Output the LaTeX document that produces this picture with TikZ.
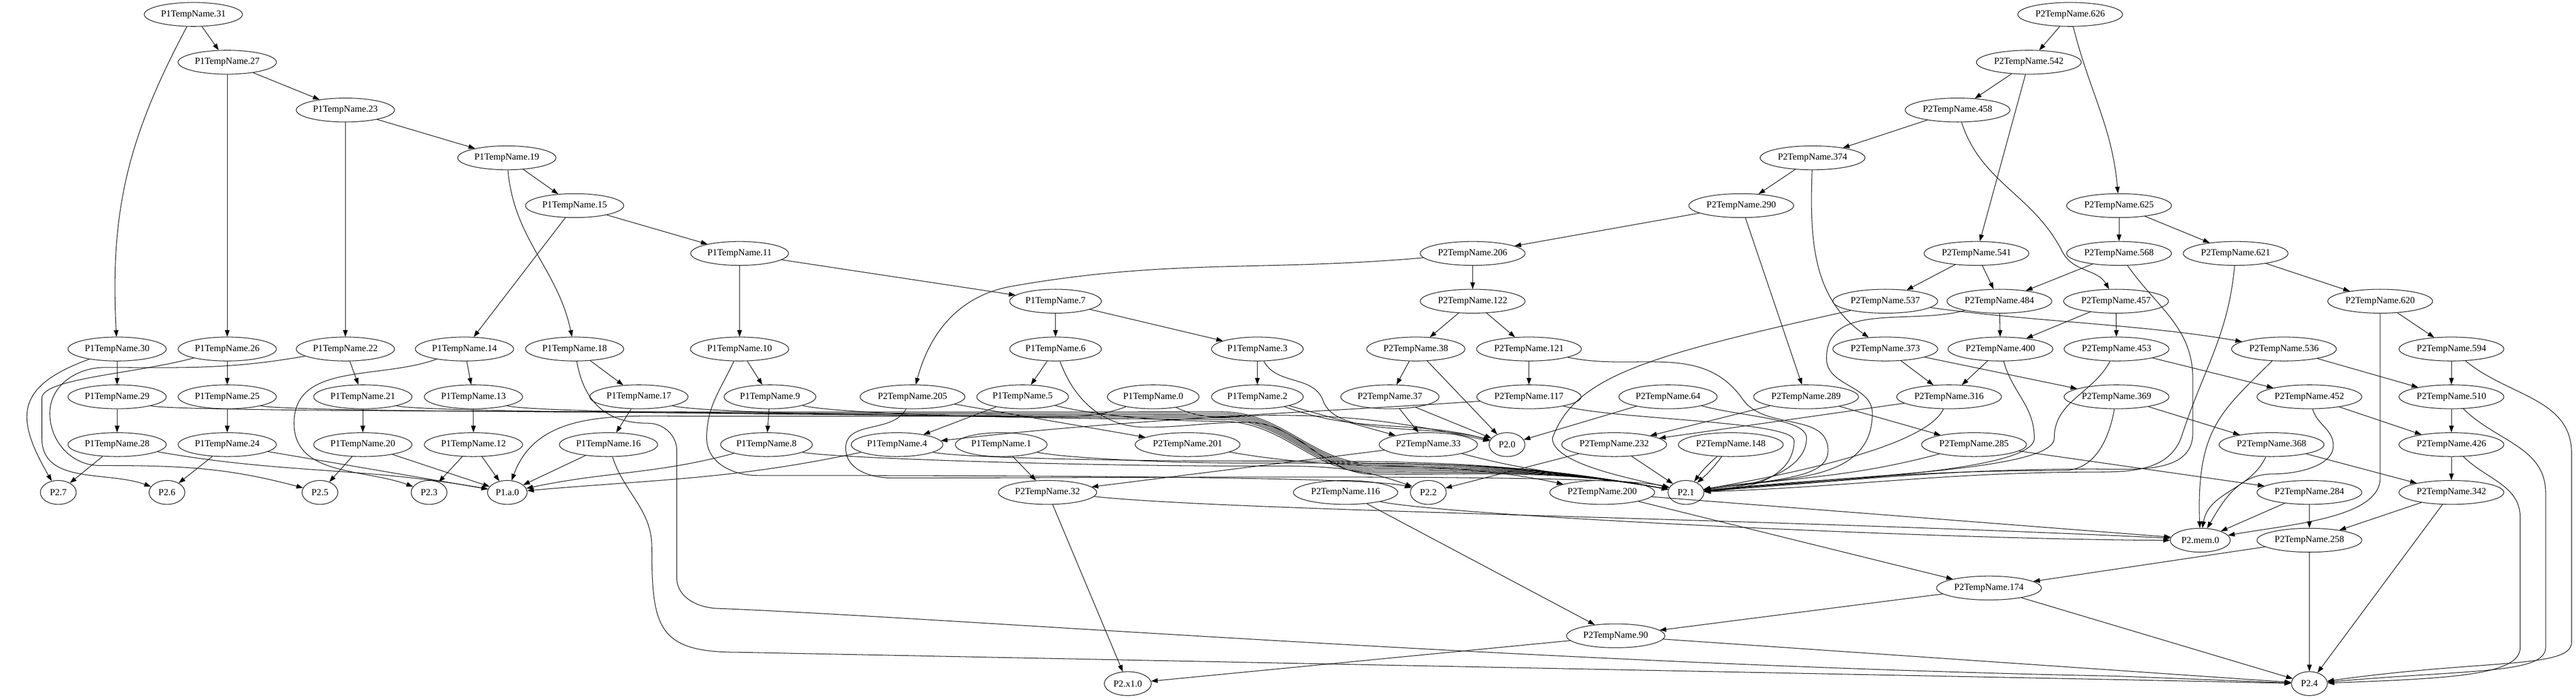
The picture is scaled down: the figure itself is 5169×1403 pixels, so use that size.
\documentclass[tikz,border=0pt]{standalone}
\usepackage{fontspec}
\setmainfont{Liberation Serif}
\usetikzlibrary{shapes.geometric,arrows.meta}

\begin{document}
\begin{tikzpicture}
 [x=0.75pt,y=-0.75pt,
% Node styles
    temp/.style={ellipse,draw,line width=0.8pt,inner xsep=3.6pt,inner ysep=0pt,
        minimum height=36pt,minimum width=54pt,font=\fontsize{14}{16}\selectfont},
    sig/.style={temp},
% Edge style
    wire/.style={draw,line width=0.8pt,-{Triangle[length=10pt,width=7pt]}}
    ]
 \useasboundingbox (0,0) rectangle (5169,1403);
%% Nodes, row by row
 \node (p1n31) [temp] at (388,29) {P1TempName.31};
 \node (p2n626) [temp] at (4154,29) {P2TempName.626};
 \node (p1n27) [temp] at (456,125) {P1TempName.27};
 \node (p2n542) [temp] at (4071,125) {P2TempName.542};
 \node (p1n23) [temp] at (693,221) {P1TempName.23};
 \node (p2n458) [temp] at (3928,221) {P2TempName.458};
 \node (p1n19) [temp] at (1017,317) {P1TempName.19};
 \node (p2n374) [temp] at (3637,317) {P2TempName.374};
 \node (p1n15) [temp] at (1153,413) {P1TempName.15};
 \node (p2n290) [temp] at (3494,413) {P2TempName.290};
 \node (p2n625) [temp] at (4252,413) {P2TempName.625};
 \node (p1n11) [temp] at (1484,509) {P1TempName.11};
 \node (p2n206) [temp] at (2955,509) {P2TempName.206};
 \node (p2n541) [temp] at (3966,509) {P2TempName.541};
 \node (p2n568) [temp] at (4252,509) {P2TempName.568};
 \node (p2n621) [temp] at (4486,509) {P2TempName.621};
 \node (p1n7) [temp] at (2118,605) {P1TempName.7};
 \node (p2n122) [temp] at (2955,605) {P2TempName.122};
 \node (p2n537) [temp] at (3783,605) {P2TempName.537};
 \node (p2n484) [temp] at (4012,605) {P2TempName.484};
 \node (p2n457) [temp] at (4246,605) {P2TempName.457};
 \node (p2n620) [temp] at (4776,605) {P2TempName.620};
 \node (p1n30) [temp] at (235,701) {P1TempName.30};
 \node (p1n26) [temp] at (456,701) {P1TempName.26};
 \node (p1n22) [temp] at (693,701) {P1TempName.22};
 \node (p1n14) [temp] at (932,701) {P1TempName.14};
 \node (p1n18) [temp] at (1153,701) {P1TempName.18};
 \node (p1n10) [temp] at (1484,701) {P1TempName.10};
 \node (p1n6) [temp] at (2118,701) {P1TempName.6};
 \node (p1n3) [temp] at (2523,701) {P1TempName.3};
 \node (p2n38) [temp] at (2841,701) {P2TempName.38};
 \node (p2n121) [temp] at (3068,701) {P2TempName.121};
 \node (p2n373) [temp] at (3783,701) {P2TempName.373};
 \node (p2n400) [temp] at (4014,701) {P2TempName.400};
 \node (p2n453) [temp] at (4247,701) {P2TempName.453};
 \node (p2n536) [temp] at (4583,701) {P2TempName.536};
 \node (p2n594) [temp] at (4919,701) {P2TempName.594};
 \node (p1n29) [temp] at (235,797) {P1TempName.29};
 \node (p1n25) [temp] at (456,797) {P1TempName.25};
 \node (p1n21) [temp] at (728,797) {P1TempName.21};
 \node (p1n13) [temp] at (950,797) {P1TempName.13};
 \node (p1n17) [temp] at (1282,797) {P1TempName.17};
 \node (p1n9) [temp] at (1545,797) {P1TempName.9};
 \node (p2n205) [temp] at (1831,797) {P2TempName.205};
 \node (p1n5) [temp] at (2052,797) {P1TempName.5};
 \node (p1n0) [temp] at (2314,797) {P1TempName.0};
 \node (p1n2) [temp] at (2523,797) {P1TempName.2};
 \node (p2n37) [temp] at (2789,797) {P2TempName.37};
 \node (p2n117) [temp] at (3068,797) {P2TempName.117};
 \node (p2n64) [temp] at (3347,797) {P2TempName.64};
 \node (p2n289) [temp] at (3624,797) {P2TempName.289};
 \node (p2n316) [temp] at (3911,797) {P2TempName.316};
 \node (p2n369) [temp] at (4247,797) {P2TempName.369};
 \node (p2n452) [temp] at (4634,797) {P2TempName.452};
 \node (p2n510) [temp] at (4919,797) {P2TempName.510};
 \node (p1n28) [temp] at (235,893) {P1TempName.28};
 \node (p1n24) [temp] at (456,893) {P1TempName.24};
 \node (p1n20) [temp] at (728,893) {P1TempName.20};
 \node (p1n12) [temp] at (950,893) {P1TempName.12};
 \node (p1n16) [temp] at (1221,893) {P1TempName.16};
 \node (p1n8) [temp] at (1538,893) {P1TempName.8};
 \node (p1n4) [temp] at (1800,893) {P1TempName.4};
 \node (p1n1) [temp] at (2009,893) {P1TempName.1};
 \node (p2n201) [temp] at (2383,893) {P2TempName.201};
 \node (p2n33) [temp] at (2866,893) {P2TempName.33};
 \node (p2n0) [sig] at (3024,893) {P2.0};
 \node (p2n232) [temp] at (3239,893) {P2TempName.232};
 \node (p2n148) [temp] at (3473,893) {P2TempName.148};
 \node (p2n285) [temp] at (3961,893) {P2TempName.285};
 \node (p2n368) [temp] at (4558,893) {P2TempName.368};
 \node (p2n426) [temp] at (4919,893) {P2TempName.426};
 \node (p2n7) [sig] at (117,989) {P2.7};
 \node (p2n6) [sig] at (335,989) {P2.6};
 \node (p2n5) [sig] at (642,989) {P2.5};
 \node (p2n3) [sig] at (861,989) {P2.3};
 \node (p1a0) [sig] at (1018,989) {P1.a.0};
 \node (p2n32) [temp] at (2102,989) {P2TempName.32};
 \node (p2n116) [temp] at (2700,989) {P2TempName.116};
 \node (p2n2) [sig] at (2866,989) {P2.2};
 \node (p2n200) [temp] at (3215,989) {P2TempName.200};
 \node (p2n1) [sig] at (3383,989) {P2.1};
 \node (p2n284) [temp] at (4634,989) {P2TempName.284};
 \node (p2n342) [temp] at (4919,989) {P2TempName.342};
 \node (p2mem0) [sig] at (4415,1085) {P2.mem.0};
 \node (p2n258) [temp] at (4634,1085) {P2TempName.258};
 \node (p2n174) [temp] at (3991,1181) {P2TempName.174};
 \node (p2n90) [temp] at (3242,1277) {P2TempName.90};
 \node (p2x10) [sig] at (2263,1373) {P2.x1.0};
 \node (p2n4) [sig] at (4634,1373) {P2.4};
%% P1 chain
 \draw[wire] (p1n31) -- (p1n27);
 \draw[wire] (p1n31) to[out=-118,in=93,out distance=190pt,in distance=190pt] (p1n30);
 \draw[wire] (p1n27) -- (p1n23);
 \draw[wire] (p1n27) -- (p1n26);
 \draw[wire] (p1n23) -- (p1n19);
 \draw[wire] (p1n23) -- (p1n22);
 \draw[wire] (p1n19) -- (p1n15);
 \draw[wire] (p1n19) to[out=-85,in=102] (p1n18);
 \draw[wire] (p1n15) -- (p1n11);
 \draw[wire] (p1n15) -- (p1n14);
 \draw[wire] (p1n11) -- (p1n7);
 \draw[wire] (p1n11) -- (p1n10);
 \draw[wire] (p1n7) -- (p1n6);
 \draw[wire] (p1n7) -- (p1n3);
 \draw[wire] (p1n30) -- (p1n29);
 \draw[wire] (p1n26) -- (p1n25);
 \draw[wire] (p1n22) -- (p1n21);
 \draw[wire] (p1n14) -- (p1n13);
 \draw[wire] (p1n18) -- (p1n17);
 \draw[wire] (p1n10) -- (p1n9);
 \draw[wire] (p1n6) -- (p1n5);
 \draw[wire] (p1n3) -- (p1n2);
 \draw[wire] (p1n29) -- (p1n28);
 \draw[wire] (p1n25) -- (p1n24);
 \draw[wire] (p1n21) -- (p1n20);
 \draw[wire] (p1n13) -- (p1n12);
 \draw[wire] (p1n17) -- (p1n16);
 \draw[wire] (p1n9) -- (p1n8);
 \draw[wire] (p1n5) -- (p1n4);
 \draw[wire] (p1n2) -- (p2n33);
 \draw[wire] (p1n1) -- (p2n32);
%% P1 loops on the left
 \draw[wire] (p1n30) to[out=200,in=120,out distance=120pt,in distance=110pt] (p2n7);
 \draw[wire] (p1n26) to[out=195,in=90,in distance=30pt] (84,800) -- (84,880) to[out=-90,in=160] (p2n6);
 \draw[wire] (p1n22) to[out=190,in=0] (210,738) to[out=180,in=90] (100,830)
    to[out=-90,in=180] (200,935) to[out=0,in=165] (p2n5);
 \draw[wire] (p1n14) to[out=200,in=90] (590,850) to[out=-90,in=160] (p2n3);
%% P1 into the small nodes
 \draw[wire] (p1n28) -- (p2n7);
 \draw[wire] (p1n24) -- (p2n6);
 \draw[wire] (p1n20) -- (p2n5);
 \draw[wire] (p1n12) -- (p2n3);
 \draw[wire] (p1n28) to[out=-10,in=170] (p1a0);
 \draw[wire] (p1n24) -- (p1a0);
 \draw[wire] (p1n20) -- (p1a0);
 \draw[wire] (p1n12) -- (p1a0);
 \draw[wire] (p1n16) -- (p1a0);
 \draw[wire] (p1n8) to[out=-165,in=12] (p1a0);
 \draw[wire] (p1n4) to[out=-168,in=5] (p1a0);
 \draw[wire] (p1n0) to[out=200,in=0] (2100,836) -- (1400,836) to[out=180,in=70] (p1a0);
%% Long edges to P2.4
 \draw[wire] (p1n18) to[out=-80,in=180,out distance=60pt,in distance=65pt] (1300,850)
    to[out=0,in=90] (1358,905) -- (1358,1160) to[out=-90,in=178] (1440,1222)
    .. controls (1900,1240) and (3100,1335) .. (4250,1358) -- (p2n4.178);
 \draw[wire] (p1n16) to[out=-72,in=90] (1308,1100)
    to[out=-90,in=180,out distance=120pt,in distance=120pt] (1480,1310) -- (4300,1366) -- (p2n4.179);
%% Edges to P2.2 and P2.0
 \draw[wire] (p1n10) to[out=-115,in=90] (1418,880) to[out=-90,in=180] (1520,955)
    .. controls (2100,955) and (2760,958) .. (p2n2.165);
 \draw[wire] (p1n8) to[out=-12,in=180,out distance=40pt] (2500,936) to[out=0,in=160] (p2n2);
 \draw[wire] (p1n3) to[out=-62,in=110] (2655,805) to[out=-70,in=165,out distance=60pt] (p2n0);
 \draw[wire] (p1n2) to[out=-20,in=165] (p2n0);
 \draw[wire] (p1n0) to[out=-25,in=180] (2550,834) to[out=0,in=168] (p2n0);
%% Edges to P2.1 from the left
 \draw[wire] (p1n29.-15) .. controls +(60,15) and (1800,827) .. (2450,827) to[out=0,in=180] (2760,932) to[out=0,in=170] (p2n1);
 \draw[wire] (p1n25.-15) .. controls +(60,15) and (1800,830) .. (2450,830) to[out=0,in=180] (2760,935) to[out=0,in=170] (p2n1);
 \draw[wire] (p1n21.-15) .. controls +(60,15) and (1800,833) .. (2450,833) to[out=0,in=180] (2760,938) to[out=0,in=170] (p2n1);
 \draw[wire] (p1n13.-15) .. controls +(60,15) and (1800,836) .. (2450,836) to[out=0,in=180] (2760,941) to[out=0,in=170] (p2n1);
 \draw[wire] (p1n17.-15) .. controls +(60,15) and (1900,839) .. (2450,839) to[out=0,in=180] (2760,944) to[out=0,in=170] (p2n1);
 \draw[wire] (p1n9.-15) .. controls +(60,15) and (2000,842) .. (2450,842) to[out=0,in=180] (2760,947) to[out=0,in=170] (p2n1);
 \draw[wire] (p1n5.-15) .. controls +(60,15) and (2300,846) .. (2450,846) to[out=0,in=180] (2760,950) to[out=0,in=170] (p2n1);
 \draw[wire] (p1n6) to[out=-70,in=180] (2300,858) to[out=0,in=180] (2500,848)
    to[out=0,in=180] (2760,953) to[out=0,in=170] (p2n1);
 \draw[wire] (p1n4) to[out=-12,in=180,out distance=40pt] (2500,926) to[out=0,in=170] (p2n1);
 \draw[wire] (p1n1) to[out=-12,in=180,out distance=40pt] (2500,930) to[out=0,in=170] (p2n1);
 \draw[wire] (p2n205) to[out=-118,in=90] (1697,900) to[out=-90,in=180] (1790,960)
    .. controls (2300,960) and (3230,950) .. (p2n1.163);
 \draw[wire] (p2n201) to[out=-10,in=168] (p2n200);
 \draw[wire] (p2n33) to[out=-15,in=170] (p2n1);
 \draw[wire] (p2n232) -- (p2n1);
 \draw[wire] (p2n148) to[bend right=6] (p2n1);
 \draw[wire] (p2n148) to[bend left=6] (p2n1);
 \draw[wire] (p2n537.195) .. controls (3304,715) and (3161,755) .. (3115,880)
    to[out=-90,in=165,out distance=40pt,in distance=50pt] (p2n1);
%% P2 chain
 \draw[wire] (p2n626) -- (p2n542);
 \draw[wire] (p2n626) to[out=-76,in=95] (p2n625);
 \draw[wire] (p2n542) -- (p2n458);
 \draw[wire] (p2n542) -- (p2n541);
 \draw[wire] (p2n458) -- (p2n374);
 \draw[wire] (p2n458) to[out=-72,in=117] (4138,505) to[out=-63,in=120] (p2n457);
 \draw[wire] (p2n374) -- (p2n290);
 \draw[wire] (p2n374) to[out=-92,in=145] (p2n373);
 \draw[wire] (p2n290) -- (p2n206);
 \draw[wire] (p2n290) -- (p2n289);
 \draw[wire] (p2n206) -- (p2n122);
 \draw[wire] (p2n206) to[out=185,in=10] (2030,575) to[out=190,in=75] (p2n205);
 \draw[wire] (p2n122) -- (p2n38);
 \draw[wire] (p2n122) -- (p2n121);
 \draw[wire] (p2n38) -- (p2n37);
 \draw[wire] (p2n38) -- (p2n0);
 \draw[wire] (p2n121) -- (p2n117);
 \draw[wire] (p2n37) -- (p2n33);
 \draw[wire] (p2n37) -- (p2n0);
 \draw[wire] (p2n117.185) .. controls (2700,825) and (2260,841) .. (p1n4.5);
 \draw[wire] (p2n64) -- (p2n0);
 \draw[wire] (p2n33) -- (p2n32);
 \draw[wire] (p2n32) -- (p2x10);
 \draw[wire] (p2n32.-5) .. controls (2465,1026) and (3490,1040) .. (p2mem0.176);
 \draw[wire] (p2n205) -- (p2n201);
 \draw[wire] (p2n289) -- (p2n232);
 \draw[wire] (p2n289) -- (p2n285);
 \draw[wire] (p2n232) -- (p2n2);
 \draw[wire] (p2n116) -- (p2n90);
 \draw[wire] (p2n116.-15) .. controls (2920,1038) and (3950,1085) .. (p2mem0.180);
 \draw[wire] (p2n200) -- (p2n174);
 \draw[wire] (p2n200.-5) -- (p2mem0.174);
%% Edges to P2.1 from the right
 \draw[wire] (p2n121) to[out=-12,in=125] (3497,802) to[out=-55,in=90] (3668,905)
    to[out=-90,in=8,out distance=40pt,in distance=120pt] (p2n1);
 \draw[wire] (p2n117) to[out=-15,in=90,out distance=80pt,in distance=30pt] (3600,885)
    to[out=-90,in=3,out distance=40pt,in distance=100pt] (p2n1);
 \draw[wire] (p2n64) to[out=-15,in=90,in distance=30pt] (3625,880)
    to[out=-90,in=5,out distance=40pt,in distance=100pt] (p2n1);
 \draw[wire] (p2n568) to[out=-55,in=90] (4400,760) -- (4400,870) to[out=-90,in=0] (4200,942)
    to[out=180,in=4] (p2n1);
 \draw[wire] (p2n621) to[out=-95,in=72] (4378,875) to[out=-108,in=0] (4215,948)
    to[out=180,in=2] (p2n1);
 \draw[wire] (p2n484) to[out=195,in=90] (3665,720) to[out=-90,in=90] (3757,830)
    to[out=-90,in=10,out distance=110pt,in distance=110pt] (p2n1);
 \draw[wire] (p2n400) to[out=-75,in=90] (4082,880)
    to[out=-90,in=5,out distance=50pt,in distance=200pt] (p2n1);
 \draw[wire] (p2n453) to[out=-118,in=90] (4122,880)
    to[out=-90,in=6,out distance=50pt,in distance=220pt] (p2n1);
 \draw[wire] (p2n369) to[out=-100,in=0] (4140,945) to[out=180,in=5] (p2n1);
 \draw[wire] (p2n316) to[out=-115,in=10,out distance=60pt] (p2n1);
 \draw[wire] (p2n285) to[out=195,in=8] (p2n1);
%% P2 right part
 \draw[wire] (p2n625) -- (p2n568);
 \draw[wire] (p2n625) -- (p2n621);
 \draw[wire] (p2n541) -- (p2n537);
 \draw[wire] (p2n541) -- (p2n484);
 \draw[wire] (p2n568) -- (p2n484);
 \draw[wire] (p2n621) -- (p2n620);
 \draw[wire] (p2n537) to[out=-8,in=170,out distance=150pt,in distance=150pt] (p2n536);
 \draw[wire] (p2n484) -- (p2n400);
 \draw[wire] (p2n457) -- (p2n400);
 \draw[wire] (p2n457) -- (p2n453);
 \draw[wire] (p2n620) -- (p2n594);
 \draw[wire] (p2n620) -- (4776,960) to[out=-90,in=10,out distance=60pt] (p2mem0);
 \draw[wire] (p2n373) -- (p2n316);
 \draw[wire] (p2n373) -- (p2n369);
 \draw[wire] (p2n400) -- (p2n316);
 \draw[wire] (p2n453) -- (p2n452);
 \draw[wire] (p2n536) -- (p2n510);
 \draw[wire] (p2n536) to[out=-135,in=92,in distance=150pt] (p2mem0);
 \draw[wire] (p2n594) -- (p2n510);
 \draw[wire] (p2n594) to[out=-40,in=90] (5160,910) -- (5160,1290)
    to[out=-90,in=8,out distance=40pt,in distance=240pt] (p2n4);
 \draw[wire] (p2n316) -- (p2n232);
 \draw[wire] (p2n369) -- (p2n368);
 \draw[wire] (p2n452) -- (p2n426);
 \draw[wire] (p2n452) to[out=-75,in=90] (4682,895) to[out=-90,in=0,out distance=30pt] (4560,952)
    to[out=180,in=60] (p2mem0);
 \draw[wire] (p2n510) -- (p2n426);
 \draw[wire] (p2n510) to[out=-45,in=90] (5108,990) -- (5108,1300)
    to[out=-90,in=5,out distance=40pt,in distance=220pt] (p2n4);
 \draw[wire] (p2n285) -- (p2n284);
 \draw[wire] (p2n368) -- (p2n342);
 \draw[wire] (p2n368) to[out=-115,in=80] (p2mem0);
 \draw[wire] (p2n426) -- (p2n342);
 \draw[wire] (p2n426) to[out=-45,in=90] (5057,1040) -- (5057,1300)
    to[out=-90,in=2,out distance=40pt,in distance=200pt] (p2n4);
 \draw[wire] (p2n284) -- (p2mem0);
 \draw[wire] (p2n284) -- (p2n258);
 \draw[wire] (p2n342) -- (p2n258);
 \draw[wire] (p2n342) -- (p2n4);
 \draw[wire] (p2n258) -- (p2n174);
 \draw[wire] (p2n258) -- (p2n4);
 \draw[wire] (p2n174) -- (p2n90);
 \draw[wire] (p2n174) -- (p2n4);
 \draw[wire] (p2n90.186) -- (p2x10.6);
 \draw[wire] (p2n90.-4) -- (p2n4.176);
\end{tikzpicture}
\end{document}
